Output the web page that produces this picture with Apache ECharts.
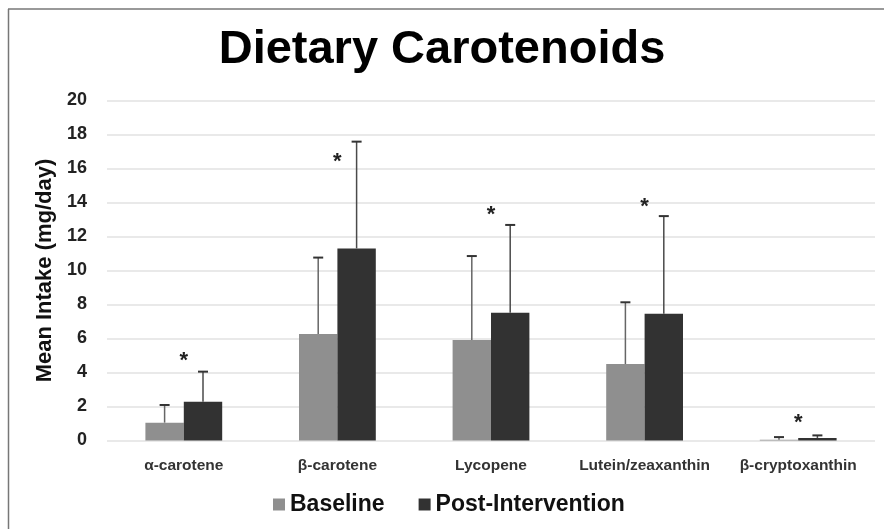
<!DOCTYPE html>
<html>
<head>
<meta charset="utf-8">
<script src="https://cdn.jsdelivr.net/npm/echarts@6/dist/echarts.min.js"></script>
<style>
  html, body { margin: 0; padding: 0; background: #fff; }
  #chart { width: 884px; height: 529px; }
</style>
</head>
<body>
<div id="chart"></div>
<script>
// values
var categories = ["α-carotene", "β-carotene", "Lycopene", "Lutein/zeaxanthin", "β-cryptoxanthin"];
var baseline = [1.05, 6.26, 5.91, 4.5, 0.05];
var baselineSD = [1.04, 4.5, 4.94, 3.63, 0.15];
var post = [2.28, 11.3, 7.52, 7.46, 0.15];
var postSD = [1.77, 6.28, 5.16, 5.74, 0.15];
var starAt = [4.97, 16.7, 13.56, 14.05, 1.35];
var yTicks = [0, 20, 2];

var FONT = "Liberation Sans, Arial, sans-serif";

function errData(mean, sd) {
    var out = [];
    for (var i = 0; i < mean.length; ++i) out.push([i, mean[i], sd[i]]);
    return out;
}

function errRender(side, col) {
    return function (params, api) {
        var idx = api.value(0);
        var m = api.value(1);
        var s = api.value(2);
        var bw = api.size([1, 0])[0];
        var p0 = api.coord([idx, m]);
        var p1 = api.coord([idx, m + s]);
        var x = p0[0] + side * bw * 0.125;
        return {
            type: "group",
            children: [
                { type: "line", shape: { x1: x, y1: p0[1], x2: x, y2: p1[1] }, style: { stroke: col, lineWidth: 1.5 } },
                { type: "line", shape: { x1: x - 5, y1: p1[1], x2: x + 5, y2: p1[1] }, style: { stroke: "#333", lineWidth: 2 } }
            ]
        };
    };
}

var starData = [];
for (var i = 0; i < starAt.length; ++i) starData.push([i, starAt[i]]);

var chart = echarts.init(document.getElementById("chart"));
var option = {
    backgroundColor: "#fff",
    animation: false,
    title: {
        text: "Dietary Carotenoids",
        left: "center",
        top: 22,
        textStyle: { fontFamily: FONT, fontSize: 47, fontWeight: "bold", color: "#000" }
    },
    legend: {
        left: 268,
        top: 488,
        icon: "rect",
        itemWidth: 12,
        itemHeight: 12,
        itemGap: 34,
        data: ["Baseline", "Post-Intervention"],
        textStyle: { fontFamily: FONT, fontSize: 23, fontWeight: "bold", color: "#111" }
    },
    grid: { left: 107, right: 9, top: 100.5, bottom: 88.5 },
    xAxis: {
        type: "category",
        data: categories,
        axisLine: { show: false },
        axisTick: { show: false },
        axisLabel: {
            interval: 0, hideOverlap: false,
            fontFamily: FONT, fontSize: 15.5, fontWeight: "bold", color: "#333", margin: 17
        }
    },
    yAxis: {
        type: "value",
        min: yTicks[0],
        max: yTicks[1],
        interval: yTicks[2],
        name: "Mean Intake (mg/day)",
        nameLocation: "middle",
        nameRotate: 90,
        nameGap: 50,
        nameTextStyle: { fontFamily: FONT, fontSize: 22, fontWeight: "bold", color: "#111" },
        axisLabel: { fontFamily: FONT, fontSize: 18, fontWeight: "bold", color: "#222", margin: 20 },
        splitLine: { lineStyle: { color: "#e2e2e2", width: 1.5 } }
    },
    series: [
        { name: "Baseline", type: "bar", data: baseline, barWidth: "25%", barGap: "0%", itemStyle: { color: "#8f8f8f" } },
        { name: "Post-Intervention", type: "bar", data: post, barWidth: "25%", barGap: "0%", itemStyle: { color: "#323232" } },
        { type: "custom", renderItem: errRender(-1, "#666"), data: errData(baseline, baselineSD), z: 5 },
        { type: "custom", renderItem: errRender(1, "#4a4a4a"), data: errData(post, postSD), z: 5 },
        {
            type: "custom",
            data: starData,
            z: 6,
            renderItem: function (params, api) {
                var p = api.coord([api.value(0), api.value(1)]);
                return {
                    type: "text",
                    style: {
                        text: "*", x: p[0], y: p[1] + 5,
                        font: "bold 22px " + FONT,
                        fill: "#222", textAlign: "center", textVerticalAlign: "middle"
                    }
                };
            }
        }
    ],
    graphic: [
        { type: "line", shape: { x1: 8.5, y1: 9, x2: 8.5, y2: 529 }, style: { stroke: "#777", lineWidth: 1.5 } },
        { type: "line", shape: { x1: 8, y1: 9, x2: 884, y2: 9 }, style: { stroke: "#777", lineWidth: 1.5 } }
    ]
};
chart.setOption(option);
</script>
</body>
</html>
